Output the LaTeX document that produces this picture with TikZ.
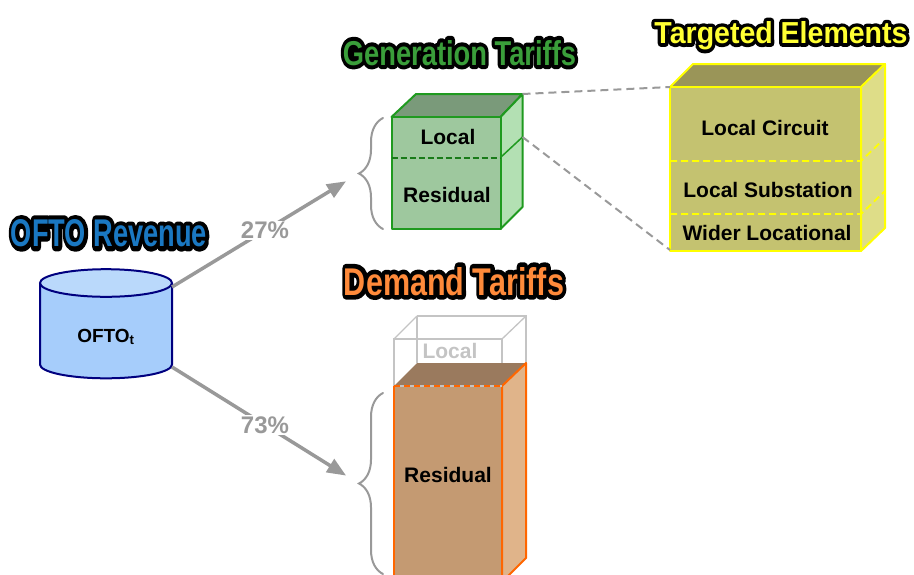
\documentclass[tikz,border=0pt]{standalone}
\usepackage{fontspec}
\setmainfont{Liberation Sans}
\usepackage{graphicx}
\usetikzlibrary{arrows.meta,decorations.pathreplacing}
\definecolor{ofblue}{HTML}{1A78C2}
\definecolor{gengreen}{HTML}{3A9E3A}
\definecolor{tgyellow}{HTML}{FFFF33}
\definecolor{dmorange}{HTML}{FF8A3A}
\definecolor{cylbody}{HTML}{A6CDFB}
\definecolor{cyltop}{HTML}{BAD9FB}
\definecolor{navy}{HTML}{00007F}
\definecolor{gfront}{HTML}{9EC89E}
\definecolor{gside}{HTML}{B3E0B3}
\definecolor{gtop}{HTML}{7A9A7A}
\definecolor{gline}{HTML}{1F9A1F}
\definecolor{yfront}{HTML}{C4C270}
\definecolor{yside}{HTML}{DEDD88}
\definecolor{ytop}{HTML}{9A9558}
\definecolor{yline}{HTML}{FFFF00}
\definecolor{ofront}{HTML}{C49A72}
\definecolor{oside}{HTML}{E0B48A}
\definecolor{otop}{HTML}{9A7A5E}
\definecolor{oline}{HTML}{FF6600}
\definecolor{greyl}{HTML}{999999}
\definecolor{boxgrey}{HTML}{C4C4C4}
% outline layer (stroke only) and fill layer
\newcommand\ttlline[3]{\resizebox{#1pt}{#2pt}{\textcolor{black}{\special{pdf:literal direct 2.4 w 1 j 1 Tr}\bfseries #3\special{pdf:literal direct 0 Tr}}}}
\newcommand\ttlfill[4]{\resizebox{#2pt}{#3pt}{\textcolor{#1}{\bfseries #4}}}
\tikzset{
  lbl/.style={font=\fontsize{21}{24}\selectfont\bfseries, text=black, inner sep=0pt},
  ttl/.style={anchor=base, inner sep=0pt},
  pct/.style={font=\fontsize{24}{26}\selectfont\bfseries, text=greyl, fill=white, inner sep=1pt},
  flow/.style={draw=greyl, line width=3.5pt, -{Triangle[length=19pt,width=15pt]}},
  bracestyle/.style={draw=greyl, line width=2pt, line cap=round, decorate, decoration={brace, amplitude=24pt}},
  link/.style={draw=greyl, line width=2pt, dash pattern=on 8pt off 5pt},
}
\begin{document}
\begin{tikzpicture}[x=1pt,y=-1pt]
\useasboundingbox (0,0) rectangle (914,574);

% titles
\node[ttl] (toftoL) at (109,246.7) {\ttlline{196}{27}{OFTO Revenue}};
\node[ttl] (tofto) at (109,246.7) {\ttlfill{ofblue}{196}{27}{OFTO Revenue}};
\node[ttl] (tgenL) at (459.5,65) {\ttlline{233}{25}{Generation Tariffs}};
\node[ttl] (tgen) at (459.5,65) {\ttlfill{gengreen}{233}{25}{Generation Tariffs}};
\node[ttl] (ttgtL) at (781,43.3) {\ttlline{253}{22}{Targeted Elements}};
\node[ttl] (ttgt) at (781,43.3) {\ttlfill{tgyellow}{253}{22}{Targeted Elements}};
\node[ttl] (tdemL) at (454,295) {\ttlline{220}{28}{Demand Tariffs}};
\node[ttl] (tdem) at (454,295) {\ttlfill{dmorange}{220}{28}{Demand Tariffs}};

% cylinder
\fill[cylbody] (40,283) -- (40,364.5) arc[start angle=180,end angle=0,x radius=66,y radius=13.8] -- (172,283) -- cycle;
\draw[navy, line width=2pt] (40,283) -- (40,364.5) arc[start angle=180,end angle=0,x radius=66,y radius=13.8] -- (172,283);
\filldraw[fill=cyltop, draw=navy, line width=2pt] (106,283) ellipse[x radius=66, y radius=13.8];
\node[lbl, font=\fontsize{19}{22}\selectfont\bfseries] (ofto) at (106,337) {OFTO\textsubscript{t}};
\coordinate (cylA) at (172,287);
\coordinate (cylB) at (172,367);

% braces
\draw[bracestyle] (383,229) -- (383,118);
\draw[bracestyle] (383,574) -- (383,393);
\coordinate (genbr) at (358,174);
\coordinate (dembr) at (358,483);

% arrows
\draw[flow, shorten >=14pt] (cylA) -- node[pct] (p27) {27\%} (genbr);
\draw[flow, shorten >=14pt] (cylB) -- node[pct] (p73) {73\%} (dembr);

% generation cube
\filldraw[fill=gtop, draw=gline, line width=2pt, line join=round] (391.5,117) -- (416,94) -- (522.5,94) -- (500.5,117) -- cycle;
\filldraw[fill=gside, draw=gline, line width=2pt, line join=round] (500.5,117) -- (522.5,94) -- (522.5,207) -- (500.5,229) -- cycle;
\filldraw[fill=gfront, draw=gline, line width=2pt, line join=round] (391.5,117) rectangle (500.5,229);
\draw[gline!80!black, line width=2pt, dash pattern=on 6pt off 3pt] (391.5,157.5) -- (500.5,157.5);
\draw[gline, line width=1.5pt] (500.5,157.5) -- (522.5,137);
\coordinate (gtr) at (522.5,94);
\coordinate (gmid) at (522.5,137);
\node[lbl] (glocal) at (448,137) {Local};
\node[lbl] (gres) at (447,195) {Residual};

% targeted cube
\filldraw[fill=ytop, draw=yline, line width=2pt, line join=round] (670,87) -- (693,64) -- (885,64) -- (861,87) -- cycle;
\filldraw[fill=yside, draw=yline, line width=2pt, line join=round] (861,87) -- (885,64) -- (885,228) -- (861,251) -- cycle;
\filldraw[fill=yfront, draw=yline, line width=2pt, line join=round] (670,87) rectangle (861,251);
\draw[yline, line width=1.8pt, dash pattern=on 7pt off 4pt] (670,161) -- (861,161) -- (885,138);
\draw[yline, line width=1.8pt, dash pattern=on 7pt off 4pt] (670,214) -- (861,214) -- (885,191);
\coordinate (ytl) at (670,87);
\coordinate (ybl) at (670,250);
\node[lbl] (ylc) at (765,128) {Local Circuit};
\node[lbl] (yls) at (768,190) {Local Substation};
\node[lbl] (ywl) at (767,233) {Wider Locational};

% dashed links
\draw[link] (gtr) -- (ytl);
\draw[link] (gmid) -- (ybl);

% demand cube
\draw[boxgrey, line width=1.3pt] (417,316) -- (526,316) -- (526,363);
\draw[boxgrey, line width=1.3pt] (417,316) -- (417,363);
\draw[boxgrey, line width=1.3pt] (394,386) -- (394,339) -- (502,339) -- (502,386);
\draw[boxgrey, line width=1.3pt] (394,339) -- (417,316);
\draw[boxgrey, line width=1.3pt] (502,339) -- (526,316);
\node[lbl, text=boxgrey] (dlocal) at (450,351) {Local};
\fill[otop] (394,386) -- (417,363) -- (526,363) -- (502,386) -- cycle;
\filldraw[fill=oside, draw=oline, line width=2pt, line join=round] (502,386) -- (526,363) -- (526,558) -- (502,582) -- cycle;
\fill[ofront] (394,386) rectangle (502,582);
\draw[oline, line width=2pt] (394,582) -- (394,386);
\draw[oline, line width=2pt] (502,386) -- (502,582);
\draw[boxgrey, line width=2pt] (394,386) -- (502,386);
\draw[oline, line width=2pt, dash pattern=on 6pt off 4pt] (394,386) -- (502,386);
\node[lbl] (dres) at (448,475) {Residual};
\end{tikzpicture}
\end{document}
